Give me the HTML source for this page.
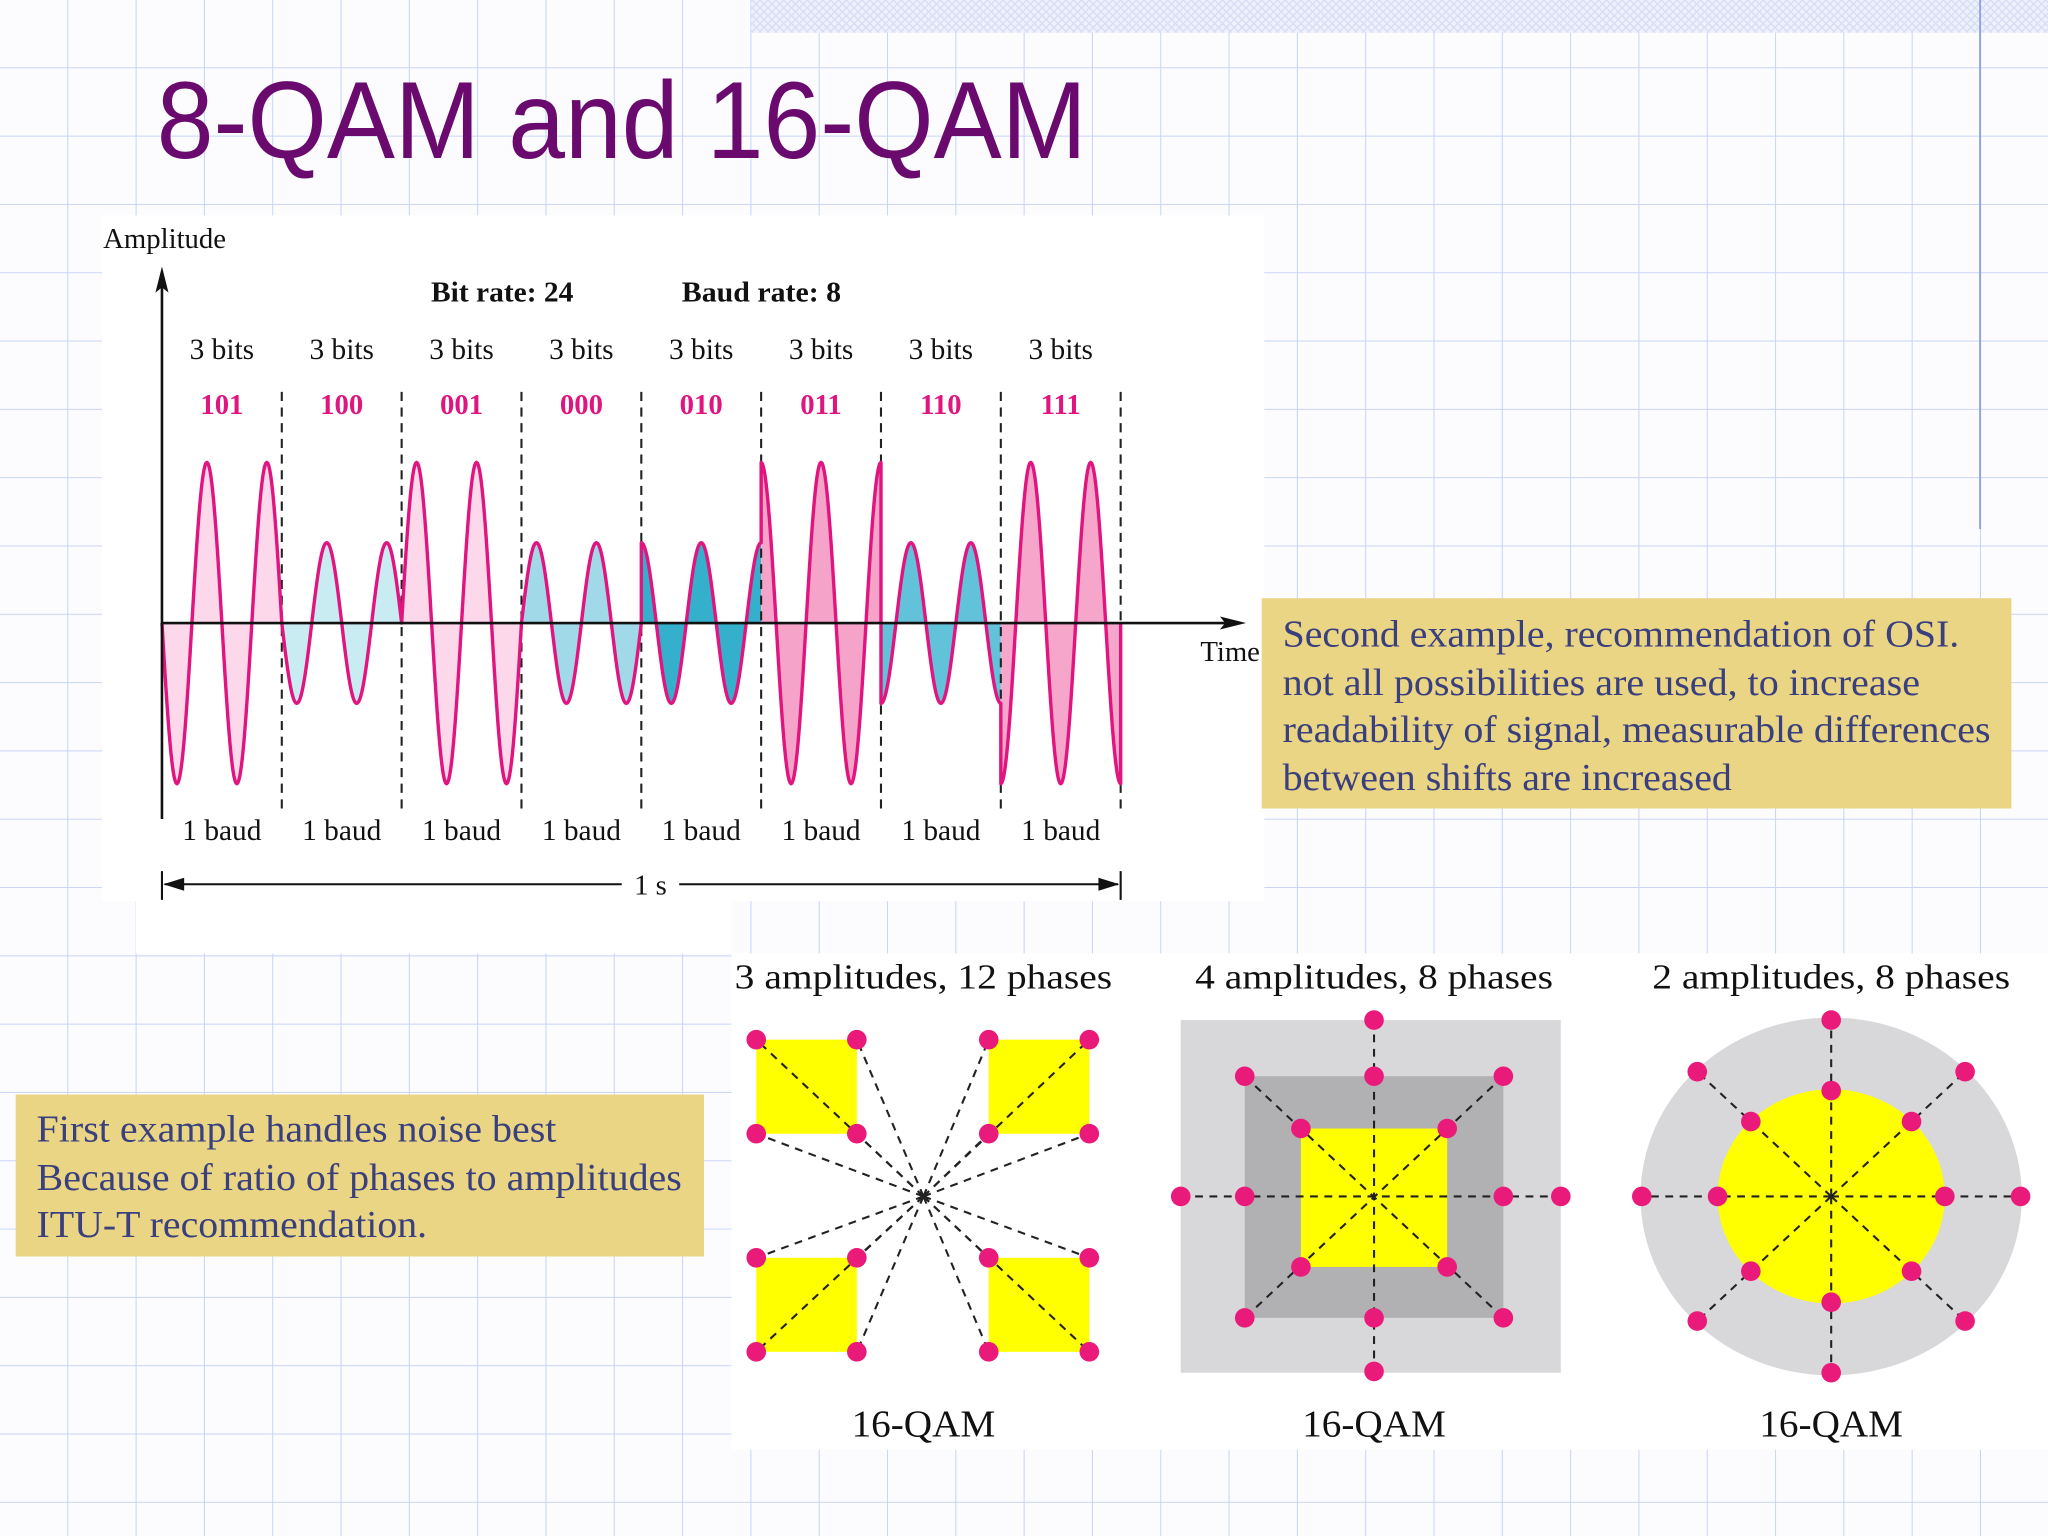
<!DOCTYPE html>
<html><head><meta charset="utf-8"><style>
html,body{margin:0;padding:0;background:#fff;}
svg{display:block;}
.serif{font-family:"Liberation Serif",serif;}
</style></head><body>
<svg width="2048" height="1536" viewBox="0 0 1568 1176" xmlns="http://www.w3.org/2000/svg">
<defs>
<pattern id="grid" width="52.3" height="52.3" patternUnits="userSpaceOnUse" x="0" y="0">
<path d="M52.3 0V52.3M0 52.3H52.3" stroke="#c9d5f6" stroke-width="1.6" fill="none"/>
</pattern>
<pattern id="check" width="6" height="6" patternUnits="userSpaceOnUse">
<rect width="6" height="6" fill="#eef1fb"/><path d="M0 0L6 6M6 0L0 6" stroke="#d6ddf3" stroke-width="1"/>
</pattern>
</defs>
<rect width="1568" height="1176" fill="#fcfcff"/>
<rect width="1568" height="1176" fill="url(#grid)"/>
<rect x="575" y="0" width="993" height="25" fill="url(#check)"/>
<line x1="1516" y1="0" x2="1516" y2="405" stroke="#8fa3e6" stroke-width="1.5"/>

<text x="120" y="121" font-family="Liberation Sans, sans-serif" font-size="84" fill="#6a0a6e" textLength="712" lengthAdjust="spacingAndGlyphs">8-QAM and 16-QAM</text>

<rect x="78" y="165" width="890" height="525" fill="#fff"/>
<rect x="104" y="688" width="456" height="42" fill="#fff"/>
<rect x="560" y="730" width="1008" height="380" fill="#fff"/>

<g id="wave" class="serif"></g>
<g id="const" class="serif"></g>

<rect x="966" y="458" width="574" height="161" fill="#e9d584"/>
<g class="serif" font-size="29" fill="#3a3f7e">
<text x="982" y="495" textLength="518" lengthAdjust="spacingAndGlyphs">Second example, recommendation of OSI.</text>
<text x="982" y="532" textLength="488" lengthAdjust="spacingAndGlyphs">not all possibilities are used, to increase</text>
<text x="982" y="568" textLength="542" lengthAdjust="spacingAndGlyphs">readability of signal, measurable differences</text>
<text x="982" y="605" textLength="344" lengthAdjust="spacingAndGlyphs">between shifts are increased</text>
</g>
<rect x="12" y="838" width="527" height="124" fill="#e9d584"/>
<g class="serif" font-size="29" fill="#3a3f7e">
<text x="28" y="874" textLength="398" lengthAdjust="spacingAndGlyphs">First example handles noise best</text>
<text x="28" y="911" textLength="494" lengthAdjust="spacingAndGlyphs">Because of ratio of phases to amplitudes</text>
<text x="28" y="947" textLength="299" lengthAdjust="spacingAndGlyphs">ITU-T recommendation.</text>
</g>
</svg>
<script>
const NS='http://www.w3.org/2000/svg';
// ---- waveform data ----
const bitGroups=['101','100','001','000','010','011','110','111'];
const amplitudes=[2,1,2,1,1,2,1,2];
const phasesDeg=[180,180,0,0,90,90,270,270];
const fills=['#fcd8ea','#c9ebf2','#fcd8ea','#a2d9e8','#35b0cc','#f6a3ca','#62c2da','#f5a6ca'];
const cyclesPerBaud=2;

const x0=124,x1=858,yAxis=477,unitAmp=61.5;
const nB=bitGroups.length,bw=(x1-x0)/nB;
const xB=i=>x0+i*bw;
const yV=v=>yAxis-v*unitAmp;
function mk(tag,attrs,parent,text){const e=document.createElementNS(NS,tag);for(const k in attrs)e.setAttribute(k,attrs[k]);if(text!=null)e.textContent=text;parent.appendChild(e);return e;}
const W=document.getElementById('wave');
let strokeD='';
for(let i=0;i<nB;i++){
  const ph=phasesDeg[i]*Math.PI/180;let d='M'+xB(i)+' '+yAxis;
  for(let k=0;k<=120;k++){const t=k/120;const x=xB(i)+t*bw;const y=yV(amplitudes[i]*Math.sin(2*Math.PI*cyclesPerBaud*t+ph));
    d+=' L'+x.toFixed(2)+' '+y.toFixed(2);strokeD+=(strokeD===''?'M':' L')+x.toFixed(2)+' '+y.toFixed(2);}
  d+=' L'+xB(i+1)+' '+yAxis+' Z';
  const f=mk('path',{d:d,fill:fills[i],stroke:'none'},W);
  
  
}
for(let i=1;i<=nB;i++){
  const l=mk('line',{x1:xB(i),y1:300,x2:xB(i),y2:620,stroke:'#222','stroke-width':1.6,'stroke-dasharray':'7,5'},W);
  
  
}
const wl=mk('path',{d:'M'+x0+' '+yAxis+' '+strokeD.replace(/^M/,'L')+' L'+x1+' '+yAxis,fill:'none',stroke:'#e0157f','stroke-width':2.6,'stroke-linejoin':'round'},W);


const ax=mk('path',{d:'M124 627 V212 M124 477 H945',stroke:'#111','stroke-width':2,fill:'none'},W);


const ah=mk('path',{d:'M124 204 L119 224 L124 220 L129 224Z M954 477 L934 472 L938 477 L934 482Z',fill:'#111'},W);


const t1=mk('text',{x:79,y:190,'font-size':22,fill:'#111'},W,'Amplitude');


const t2=mk('text',{x:919,y:506,'font-size':22,fill:'#111'},W,'Time');


const t3=mk('text',{x:330,y:231,'font-size':22,'font-weight':'bold',fill:'#111',textLength:109,lengthAdjust:'spacingAndGlyphs'},W,'Bit rate: 24');


const t4=mk('text',{x:522,y:231,'font-size':22,'font-weight':'bold',fill:'#111',textLength:122,lengthAdjust:'spacingAndGlyphs'},W,'Baud rate: 8');


for(let i=0;i<nB;i++){
  const cx=xB(i)+bw/2;
  const a=mk('text',{x:cx,y:275,'font-size':22.5,'text-anchor':'middle',fill:'#111'},W,'3 bits');
  
  
  const b=mk('text',{x:cx,y:317,'font-size':22,'font-weight':'bold','text-anchor':'middle',fill:'#e0157f'},W,bitGroups[i]);
  
  
  const c=mk('text',{x:cx,y:643,'font-size':22.5,'text-anchor':'middle',fill:'#111'},W,'1 baud');
  
  
}
const sp=mk('path',{d:'M124 667 V689 M858 667 V689 M126 677 H476 M520 677 H856',stroke:'#111','stroke-width':1.6,fill:'none'},W);


const sh=mk('path',{d:'M125 677 L141 672 L141 682Z M857 677 L841 672 L841 682Z',fill:'#111'},W);


const s1=mk('text',{x:498,y:685,'font-size':22,'text-anchor':'middle',fill:'#111'},W,'1 s');



// ---- constellations ----
const C=document.getElementById('const');
const dot='#ea1a7a',dash={stroke:'#222','stroke-width':1.6,'stroke-dasharray':'6,5',fill:'none'};
function ray(x1,y1,x2,y2){const l=mk('line',Object.assign({x1,y1,x2,y2},dash),C);}
function pt(x,y){const c=mk('circle',{cx:x,cy:y,r:7.5,fill:dot},C);}
function lbl(x,y,s,n,fs,len){const t=mk('text',{x,y,'font-size':fs,'text-anchor':'middle',fill:'#111',textLength:len,lengthAdjust:'spacingAndGlyphs'},C,s);}
// panel 1
const c1x=707,c1y=916;
const sq1=[[579,796],[757,796],[579,963],[757,963]];
sq1.forEach(s=>{const r=mk('rect',{x:s[0],y:s[1],width:77,height:72,fill:'#ffff00'},C);});
const p1=[];sq1.forEach(s=>{p1.push([s[0],s[1]],[s[0]+77,s[1]],[s[0],s[1]+72],[s[0]+77,s[1]+72]);});
p1.forEach(p=>ray(c1x,c1y,p[0],p[1]));
p1.forEach(p=>pt(p[0],p[1]));
lbl(707,757,'3 amplitudes, 12 phases','constellation-title-1',27,289);
lbl(707,1100,'16-QAM','constellation-label-1',29,110);
// panel 2
[[904,781,291,270,'#d8d8da'],[953,824,198,185,'#b1b1b3'],[996,864,112,106,'#ffff00']].forEach(r=>{const e=mk('rect',{x:r[0],y:r[1],width:r[2],height:r[3],fill:r[4]},C);});
ray(904,916,1195,916);ray(1052,781,1052,1050);ray(953,824,1151,1009);ray(1151,824,953,1009);
[[904,916],[953,916],[1151,916],[1195,916],[1052,781],[1052,824],[1052,1009],[1052,1050],[953,824],[1151,824],[953,1009],[1151,1009],[996,864],[1108,864],[996,970],[1108,970]].forEach(p=>pt(p[0],p[1]));
lbl(1052,757,'4 amplitudes, 8 phases','constellation-title-2',27,274);
lbl(1052,1100,'16-QAM','constellation-label-2',29,110);
// panel 3
const c3x=1402,c3y=916;
const o=mk('ellipse',{cx:c3x,cy:c3y,rx:146,ry:137,fill:'#d8d8da'},C);
const n=mk('ellipse',{cx:c3x,cy:c3y,rx:87,ry:82,fill:'#ffff00'},C);
for(let k=0;k<8;k++){const a=k*Math.PI/4;ray(c3x,c3y,c3x+145*Math.cos(a),c3y+135*Math.sin(a));}
for(let k=0;k<8;k++){const a=k*Math.PI/4;pt(c3x+145*Math.cos(a),c3y+135*Math.sin(a));pt(c3x+87*Math.cos(a),c3y+81*Math.sin(a));}
lbl(1402,757,'2 amplitudes, 8 phases','constellation-title-3',27,274);
lbl(1402,1100,'16-QAM','constellation-label-3',29,110);
</script>
</body></html>
